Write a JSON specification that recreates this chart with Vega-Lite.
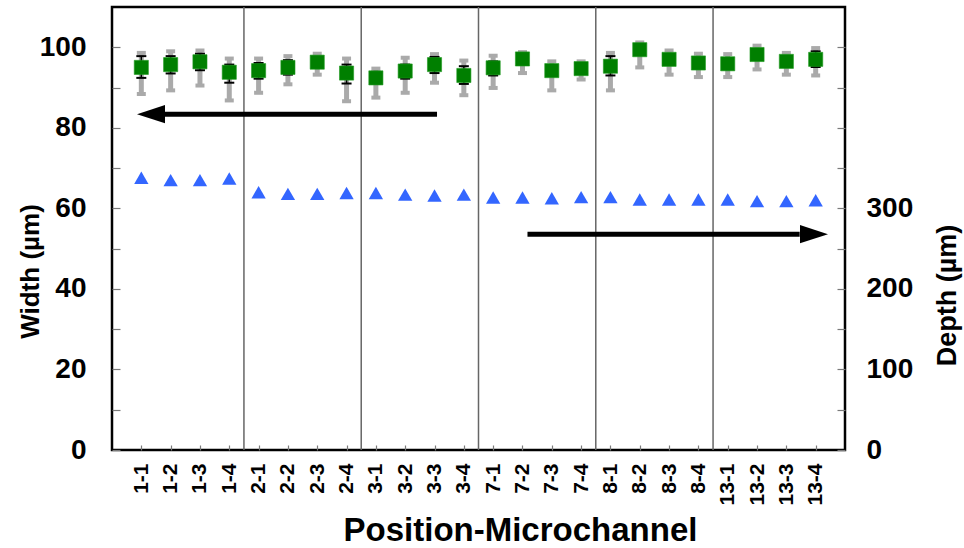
{
  "$schema": "https://vega.github.io/schema/vega-lite/v6.json",
  "width": 733,
  "height": 443,
  "autosize": {"type": "none"},
  "padding": {"left": 112, "top": 7, "right": 119, "bottom": 98},
  "background": "white",
  "config": {
    "font": "Liberation Sans",
    "view": {"stroke": "black", "strokeWidth": 2.5},
    "axis": {
      "grid": false,
      "domain": false,
      "zindex": 1,
      "labelFont": "Liberation Sans",
      "labelFontWeight": "bold",
      "labelColor": "black",
      "titleFont": "Liberation Sans",
      "titleFontWeight": "bold",
      "titleColor": "black",
      "tickColor": "#7a7a7a",
      "tickWidth": 1.2
    },
    "axisX": {"labelFontSize": 21, "labelAngle": 270, "labelPadding": 18, "tickSize": -5}
  },
  "datasets": {
    "ch": [
      {"pos": "1-1", "w": 95.0, "glo": 88.4, "ghi": 98.6, "blo": 92.4, "bhi": 97.8, "d": 338},
      {"pos": "1-2", "w": 95.7, "glo": 89.3, "ghi": 99.0, "blo": 93.5, "bhi": 97.8, "d": 335},
      {"pos": "1-3", "w": 96.4, "glo": 90.5, "ghi": 99.2, "blo": 94.3, "bhi": 98.4, "d": 335},
      {"pos": "1-4", "w": 93.8, "glo": 86.8, "ghi": 97.2, "blo": 91.2, "bhi": 95.7, "d": 337},
      {"pos": "2-1", "w": 94.2, "glo": 88.7, "ghi": 97.2, "blo": 92.2, "bhi": 96.1, "d": 320},
      {"pos": "2-2", "w": 95.0, "glo": 90.8, "ghi": 97.8, "blo": 93.2, "bhi": 96.8, "d": 318},
      {"pos": "2-3", "w": 96.3, "glo": 93.2, "ghi": 98.4, "blo": 95.0, "bhi": 97.6, "d": 318},
      {"pos": "2-4", "w": 93.6, "glo": 86.6, "ghi": 97.2, "blo": 91.0, "bhi": 95.7, "d": 319},
      {"pos": "3-1", "w": 92.4, "glo": 87.5, "ghi": 94.7, "blo": 91.0, "bhi": 93.9, "d": 319},
      {"pos": "3-2", "w": 94.1, "glo": 88.7, "ghi": 97.4, "blo": 92.2, "bhi": 95.7, "d": 317},
      {"pos": "3-3", "w": 95.7, "glo": 91.2, "ghi": 98.3, "blo": 93.6, "bhi": 97.6, "d": 316},
      {"pos": "3-4", "w": 93.0, "glo": 88.1, "ghi": 96.7, "blo": 90.9, "bhi": 95.3, "d": 317},
      {"pos": "7-1", "w": 94.9, "glo": 89.9, "ghi": 97.9, "blo": 93.0, "bhi": 96.5, "d": 313.5},
      {"pos": "7-2", "w": 97.1, "glo": 93.6, "ghi": 98.8, "blo": 96.0, "bhi": 98.2, "d": 313.5},
      {"pos": "7-3", "w": 94.2, "glo": 89.3, "ghi": 96.5, "blo": 93.0, "bhi": 95.5, "d": 312.5},
      {"pos": "7-4", "w": 94.7, "glo": 92.0, "ghi": 96.5, "blo": 93.8, "bhi": 95.7, "d": 314},
      {"pos": "8-1", "w": 95.3, "glo": 89.3, "ghi": 98.6, "blo": 93.0, "bhi": 97.8, "d": 314},
      {"pos": "8-2", "w": 99.4, "glo": 95.0, "ghi": 101.2, "blo": 98.3, "bhi": 100.5, "d": 311},
      {"pos": "8-3", "w": 97.0, "glo": 93.2, "ghi": 99.2, "blo": 96.0, "bhi": 98.0, "d": 311},
      {"pos": "8-4", "w": 96.1, "glo": 92.6, "ghi": 98.4, "blo": 95.0, "bhi": 97.2, "d": 311},
      {"pos": "13-1", "w": 95.9, "glo": 92.6, "ghi": 98.3, "blo": 94.8, "bhi": 97.0, "d": 311},
      {"pos": "13-2", "w": 98.2, "glo": 94.5, "ghi": 100.4, "blo": 97.0, "bhi": 99.3, "d": 309},
      {"pos": "13-3", "w": 96.5, "glo": 93.2, "ghi": 98.6, "blo": 95.4, "bhi": 97.6, "d": 309},
      {"pos": "13-4", "w": 97.0, "glo": 93.0, "ghi": 99.8, "blo": 95.1, "bhi": 99.0, "d": 310}
    ],
    "seps": [{"pos": "2-1"}, {"pos": "3-1"}, {"pos": "7-1"}, {"pos": "8-1"}, {"pos": "13-1"}],
    "arrowL": [{"pos": "3-3", "pos2": "1-1", "w": 83.4}],
    "arrowR": [{"pos": "7-2", "pos2": "13-4", "d": 268}]
  },
  "encoding": {
    "x": {
      "field": "pos",
      "type": "nominal",
      "sort": null,
      "scale": {
        "type": "point",
        "padding": 1,
        "domain": ["1-1","1-2","1-3","1-4","2-1","2-2","2-3","2-4","3-1","3-2","3-3","3-4","7-1","7-2","7-3","7-4","8-1","8-2","8-3","8-4","13-1","13-2","13-3","13-4"]
      },
      "axis": {
        "title": "Position-Microchannel",
        "titleFontSize": 33,
        "titleX": 408,
        "titleY": 90,
        "titleBaseline": "alphabetic",
        "titleAlign": "center",
        "labelAngle": 270,
        "labelFontSize": 21,
        "labelPadding": 18,
        "tickSize": -5
      }
    }
  },
  "layer": [
    {
      "layer": [
        {
          "data": {"name": "seps"},
          "mark": {"type": "rule", "color": "#666666", "strokeWidth": 1.5, "xOffset": -14.66},
          "encoding": {}
        },
        {
          "data": {"name": "ch"},
          "mark": {"type": "rule", "color": "#aaaaaa", "strokeWidth": 5},
          "encoding": {
            "y": {"field": "glo", "type": "quantitative", "scale": {"domain": [0, 110], "nice": false, "zero": true},
              "axis": {
                "title": "Width (µm)",
                "titleFontSize": 26,
                "titleAngle": 270,
                "titleX": -74,
                "titleY": 264,
                "titleBaseline": "alphabetic",
                "titleAlign": "center",
                "labelFontSize": 28,
                "labelPadding": 34,
                "tickSize": -8,
                "values": [0, 10, 20, 30, 40, 50, 60, 70, 80, 90, 100],
                "labelExpr": "datum.value % 20 == 0 ? datum.label : ''"
              }},
            "y2": {"field": "ghi"}
          }
        },
        {
          "data": {"name": "ch"},
          "mark": {"type": "tick", "color": "#aaaaaa", "size": 9, "thickness": 4, "opacity": 1},
          "encoding": {"y": {"field": "glo", "type": "quantitative"}}
        },
        {
          "data": {"name": "ch"},
          "mark": {"type": "tick", "color": "#aaaaaa", "size": 9, "thickness": 4, "opacity": 1},
          "encoding": {"y": {"field": "ghi", "type": "quantitative"}}
        },
        {
          "data": {"name": "ch"},
          "mark": {"type": "rule", "color": "black", "strokeWidth": 1.5},
          "encoding": {"y": {"field": "blo", "type": "quantitative"}, "y2": {"field": "bhi"}}
        },
        {
          "data": {"name": "ch"},
          "mark": {"type": "tick", "color": "black", "size": 10, "thickness": 2, "opacity": 1},
          "encoding": {"y": {"field": "blo", "type": "quantitative"}}
        },
        {
          "data": {"name": "ch"},
          "mark": {"type": "tick", "color": "black", "size": 10, "thickness": 2, "opacity": 1},
          "encoding": {"y": {"field": "bhi", "type": "quantitative"}}
        },
        {
          "data": {"name": "ch"},
          "mark": {"type": "point", "shape": "square", "filled": true, "size": 200, "color": "#007f00", "opacity": 1, "stroke": "#1f9a1f", "strokeWidth": 0.6},
          "encoding": {"y": {"field": "w", "type": "quantitative"}}
        },
        {
          "data": {"name": "arrowL"},
          "mark": {"type": "rule", "color": "black", "strokeWidth": 5, "xOffset": 2.5, "x2Offset": 20},
          "encoding": {"x2": {"field": "pos2"}, "y": {"field": "w", "type": "quantitative"}}
        },
        {
          "data": {"name": "arrowL"},
          "mark": {"type": "point", "shape": "M-1,0 L1,-0.65 L1,0.65 Z", "filled": true, "size": 784, "color": "black", "opacity": 1, "xOffset": 9.7},
          "encoding": {"x": {"field": "pos2", "type": "nominal"}, "y": {"field": "w", "type": "quantitative"}}
        }
      ]
    },
    {
      "layer": [
        {
          "data": {"name": "ch"},
          "mark": {"type": "point", "shape": "triangle-up", "filled": true, "size": 205, "color": "#3366ff", "opacity": 1},
          "encoding": {
            "y": {"field": "d", "type": "quantitative", "scale": {"domain": [0, 550], "nice": false},
              "axis": {
                "orient": "right",
                "title": "Depth (µm)",
                "titleAngle": 270,
                "titleFontSize": 27,
                "titleX": 110,
                "titleY": 288,
                "titleBaseline": "alphabetic",
                "titleAlign": "center",
                "labelFontSize": 28,
                "labelPadding": 29,
                "tickSize": -8,
                "values": [0, 50, 100, 150, 200, 250, 300, 350, 400, 450, 500],
                "labelExpr": "datum.value <= 300 && datum.value % 100 == 0 ? datum.label : ''"
              }}
          }
        },
        {
          "data": {"name": "arrowR"},
          "mark": {"type": "rule", "color": "black", "strokeWidth": 5, "xOffset": 5, "x2Offset": -16},
          "encoding": {"x2": {"field": "pos2"}, "y": {"field": "d", "type": "quantitative"}}
        },
        {
          "data": {"name": "arrowR"},
          "mark": {"type": "point", "shape": "M1,0 L-1,-0.65 L-1,0.65 Z", "filled": true, "size": 784, "color": "black", "opacity": 1, "xOffset": -1.7},
          "encoding": {"x": {"field": "pos2", "type": "nominal"}, "y": {"field": "d", "type": "quantitative"}}
        }
      ]
    }
  ],
  "resolve": {"scale": {"y": "independent"}}
}
